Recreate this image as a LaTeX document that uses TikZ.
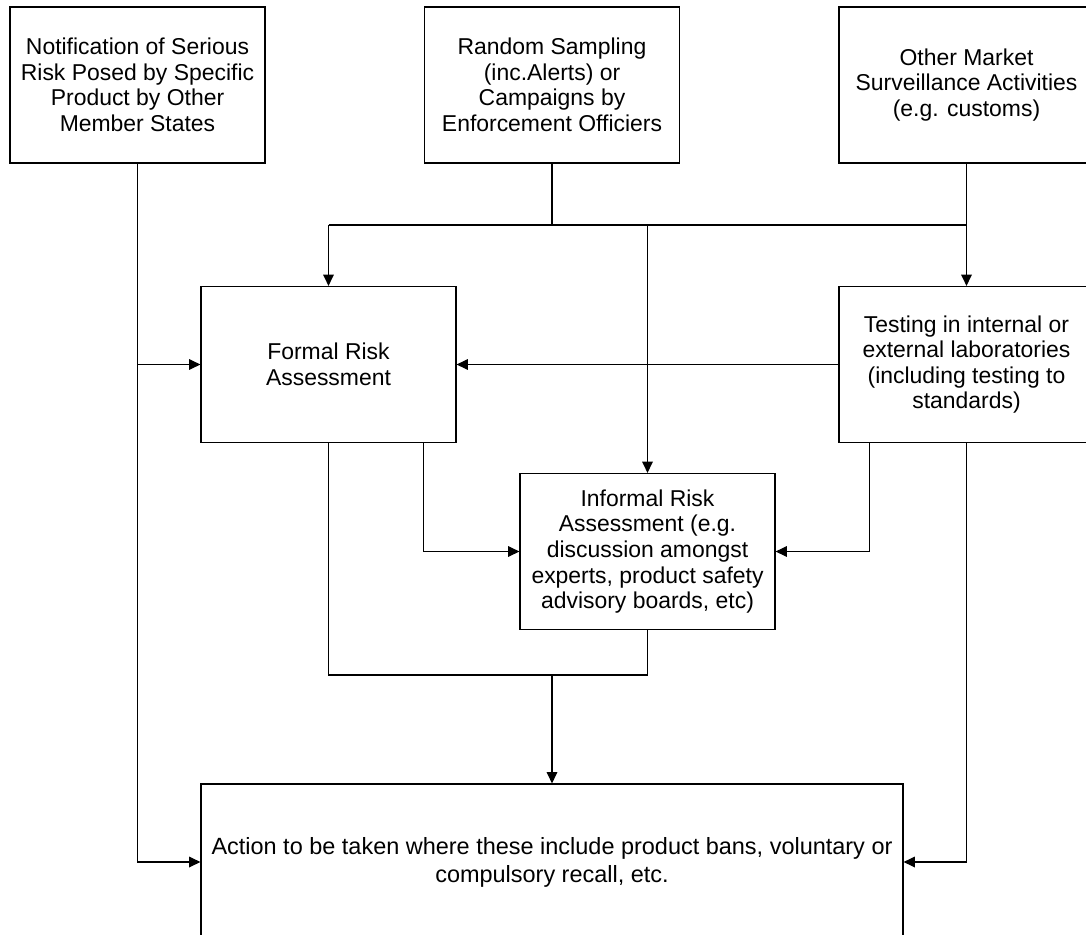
\documentclass[tikz,border=0pt]{standalone}
\usepackage{fontspec}
\setmainfont{Liberation Sans}
\usetikzlibrary{arrows.meta,calc}
\begin{document}
\begin{tikzpicture}[x=0.75pt,y=-0.75pt,
  box/.style={draw, line width=0.9pt, inner sep=0pt, align=center,
    minimum width=191.25pt, minimum height=117pt,
    font=\fontsize{17.2}{19.2}\selectfont},
  conn/.style={line width=0.9pt},
  arr/.style={conn, -{Triangle[length=8.5pt,width=8pt]}}]
\useasboundingbox (0,0) rectangle (1086,935);
\node[box] (notif) at (137.5,85) {Notification of Serious\\Risk Posed by Specific\\Product by Other\\Member States};
\node[box] (random) at (552,85) {Random Sampling\\(inc.Alerts) or\\Campaigns by\\Enforcement Officiers};
\node[box] (market) at (966.5,85) {Other Market\\Surveillance Activities\\(e.g. customs)};
\node[box] (formal) at (328.5,364.5) {Formal Risk\\Assessment};
\node[box] (testing) at (966.5,364.5) {Testing in internal or\\external laboratories\\(including testing to\\standards)};
\node[box] (informal) at (647.5,551.5) {Informal Risk\\Assessment (e.g.\\discussion amongst\\experts, product safety\\advisory boards, etc)};
\node[box, minimum width=526.5pt, font=\fontsize{17.6}{21}\selectfont] (action) at (552,862) {Action to be taken where these include product bans, voluntary or\\compulsory recall, etc.};
\coordinate (busL) at (328.5,225);
\coordinate (busR) at (966.5,225);
\coordinate (jn) at (552,675);
% left feed
\draw[arr] (notif.south) |- (formal.west);
\draw[arr] (notif.south) |- (action.west);
% top bus
\draw[conn] (random.south) -- (random.south |- busL);
\draw[conn] (market.south) -- (busR);
\draw[conn] (busL) -- (busR);
\draw[arr] (busL) -- (formal.north);
\draw[arr] (informal.north |- busL) -- (informal.north);
\draw[arr] (busR) -- (testing.north);
% middle
\draw[arr] (testing.west) -- (formal.east);
\draw[arr] ($(formal.south east)+(-33,0)$) |- (informal.west);
\draw[arr] ($(testing.south west)+(31,0)$) |- (informal.east);
% bottom merge
\draw[conn] (formal.south) |- (informal.south |- jn) -- (informal.south);
\draw[arr] (jn) -- (action.north);
\draw[arr] (testing.south) |- (action.east);
\end{tikzpicture}
\end{document}
